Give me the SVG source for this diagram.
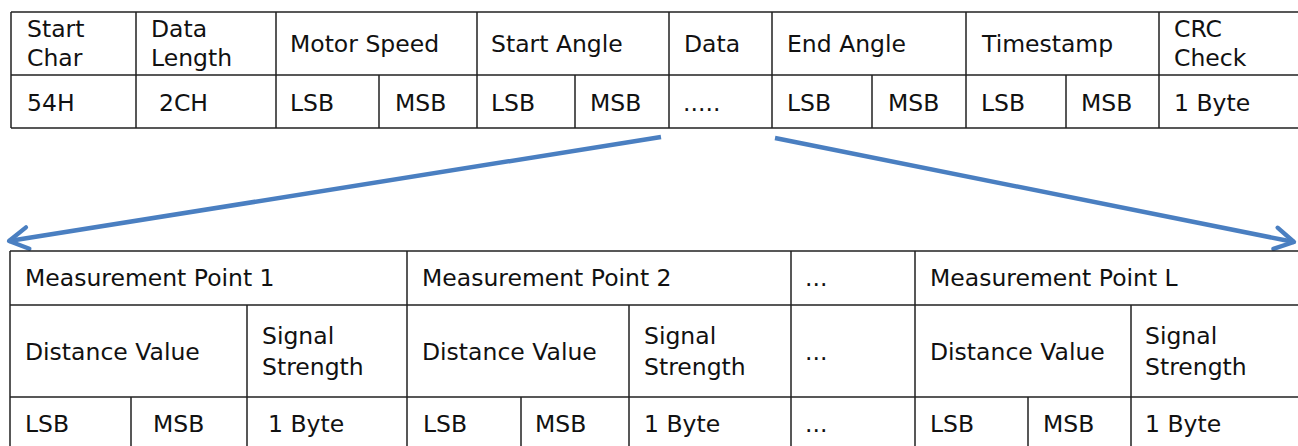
<svg xmlns="http://www.w3.org/2000/svg" width="1298" height="446" viewBox="0 0 1298 446">
<style>
.g{stroke:#222;stroke-width:1.5;fill:none}
text{font-family:"DejaVu Sans","Liberation Sans",sans-serif;font-size:23.5px;fill:#111}
.c{stroke:#4a7fc1;stroke-width:4.5;fill:none;stroke-linecap:butt}
</style>
<defs>
<marker id="ah" viewBox="0 0 10 10" refX="8.5" refY="5" markerWidth="6" markerHeight="6" orient="auto" markerUnits="strokeWidth">
<path d="M1.5,1 L8.5,5 L1.5,9" fill="none" stroke="#4a7fc1" stroke-width="1.6" stroke-linecap="round" stroke-linejoin="round"/>
</marker>
</defs>
<g id="top-table">
<path class="g" d="M11,12 H1298 M11,75 H1298 M11,128 H1298 M11,12 V128 M136,12 V128 M276,12 V128 M379,75 V128 M477,12 V128 M575,75 V128 M669,12 V128 M772,12 V128 M872,75 V128 M966,12 V128 M1066,75 V128 M1159,12 V128"/>
<text x="27" y="37">Start</text><text x="27" y="66">Char</text>
<text x="151" y="37">Data</text><text x="151" y="66">Length</text>
<text x="290" y="52">Motor Speed</text>
<text x="491" y="52">Start Angle</text>
<text x="684" y="52">Data</text>
<text x="787" y="52">End Angle</text>
<text x="982" y="52">Timestamp</text>
<text x="1174" y="37">CRC</text><text x="1174" y="66">Check</text>
<text x="27" y="111">54H</text>
<text x="159" y="111">2CH</text>
<text x="290" y="111">LSB</text><text x="395" y="111">MSB</text>
<text x="491" y="111">LSB</text><text x="590" y="111">MSB</text>
<text x="683" y="111">.....</text>
<text x="787" y="111">LSB</text><text x="888" y="111">MSB</text>
<text x="981" y="111">LSB</text><text x="1081" y="111">MSB</text>
<text x="1174" y="111">1 Byte</text>
</g>
<g id="connectors">
<path class="c" d="M661,137 L9,241" marker-end="url(#ah)"/>
<path class="c" d="M775,138 L1294,242" marker-end="url(#ah)"/>
</g>
<g id="bottom-table">
<path class="g" d="M10,251 H1298 M10,305 H1298 M10,397 H1298 M10,251 V446 M131,397 V446 M247,305 V446 M407,251 V446 M521,397 V446 M629,305 V446 M791,251 V446 M915,251 V446 M1028,397 V446 M1131,305 V446"/>
<text x="25" y="286">Measurement Point 1</text>
<text x="422" y="286">Measurement Point 2</text>
<text x="805" y="286">...</text>
<text x="930" y="286">Measurement Point L</text>
<text x="25" y="360">Distance Value</text>
<text x="262" y="344">Signal</text><text x="262" y="375">Strength</text>
<text x="422" y="360">Distance Value</text>
<text x="644" y="344">Signal</text><text x="644" y="375">Strength</text>
<text x="805" y="360">...</text>
<text x="930" y="360">Distance Value</text>
<text x="1145" y="344">Signal</text><text x="1145" y="375">Strength</text>
<text x="25" y="432">LSB</text><text x="153" y="432">MSB</text><text x="268" y="432">1 Byte</text>
<text x="423" y="432">LSB</text><text x="535" y="432">MSB</text><text x="644" y="432">1 Byte</text>
<text x="805" y="432">...</text>
<text x="930" y="432">LSB</text><text x="1043" y="432">MSB</text><text x="1145" y="432">1 Byte</text>
</g>
</svg>
